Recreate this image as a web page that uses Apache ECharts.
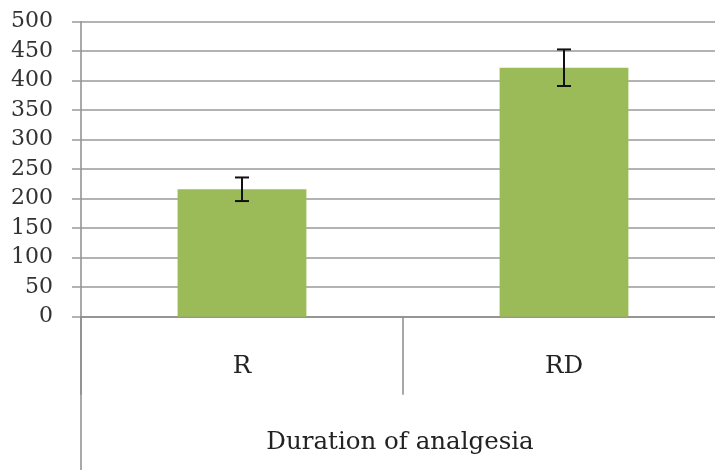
<!DOCTYPE html>
<html>
<head>
<meta charset="utf-8">
<script src="https://cdn.jsdelivr.net/npm/echarts@6/dist/echarts.min.js"></script>
<style>html,body{margin:0;padding:0;background:#fff;overflow:hidden;}#c{width:715px;height:470px;}</style>
</head>
<body>
<div id="c"></div>
<script>
const categories = ['R', 'RD'];
const values = [216, 422];
const errors = [20, 31];
const yTicks = {min: 0, max: 500, interval: 50};
const axisName = 'Duration of analgesia';

const chart = echarts.init(document.getElementById('c'));
const font = 'DejaVu Serif';
const errData = categories.map((c, i) => [i, values[i] - errors[i], values[i] + errors[i]]);

chart.setOption({
  animation: false,
  backgroundColor: '#fff',
  grid: {left: 81, width: 644, top: 21.7, bottom: 153.3, containLabel: false, outerBoundsMode: 'none'},
  xAxis: {
    type: 'category',
    data: categories,
    boundaryGap: true,
    axisLine: {show: true, lineStyle: {color: '#8c8c8c', width: 1.5}},
    axisTick: {show: true, length: 78, inside: false, lineStyle: {color: '#8c8c8c', width: 1.5}},
    axisLabel: {margin: 37, fontFamily: font, fontSize: 24.5, color: '#222'},
    name: axisName,
    nameLocation: 'middle',
    nameGap: 113,
    nameTextStyle: {fontFamily: font, fontSize: 24.5, color: '#222', padding: [0, 6, 0, 0]}
  },
  yAxis: {
    type: 'value',
    min: yTicks.min, max: yTicks.max, interval: yTicks.interval,
    axisLine: {show: true, lineStyle: {color: '#8c8c8c', width: 1.5}},
    axisTick: {show: true, length: 9, lineStyle: {color: '#9a9a9a', width: 1.5}},
    axisLabel: {margin: 28, fontFamily: font, fontSize: 22, color: '#333'},
    splitLine: {show: true, lineStyle: {color: '#9a9a9a', width: 1.5}}
  },
  series: [
    {
      type: 'bar',
      data: values,
      barWidth: '40%',
      itemStyle: {color: '#9bbb59'},
      z: 2
    },
    {
      type: 'custom',
      data: errData,
      z: 5,
      renderItem: function (params, api) {
        const x = api.value(0);
        const lo = api.coord([x, api.value(1)]);
        const hi = api.coord([x, api.value(2)]);
        const hw = 7;
        const style = {stroke: '#111', lineWidth: 2};
        return {
          type: 'group',
          children: [
            {type: 'line', shape: {x1: lo[0], y1: lo[1], x2: hi[0], y2: hi[1]}, style: style},
            {type: 'line', shape: {x1: lo[0] - hw, y1: lo[1], x2: lo[0] + hw, y2: lo[1]}, style: style},
            {type: 'line', shape: {x1: hi[0] - hw, y1: hi[1], x2: hi[0] + hw, y2: hi[1]}, style: style}
          ]
        };
      }
    }
  ]
});

// extend the left axis line down below the category labels
const p0 = chart.convertToPixel({gridIndex: 0}, [0, 0]);
const gridLeft = 81;
chart.setOption({
  graphic: [{
    type: 'line',
    shape: {x1: gridLeft, y1: p0[1], x2: gridLeft, y2: 470},
    style: {stroke: '#8c8c8c', lineWidth: 1.5},
    z: 10
  }]
});
</script>
</body>
</html>
